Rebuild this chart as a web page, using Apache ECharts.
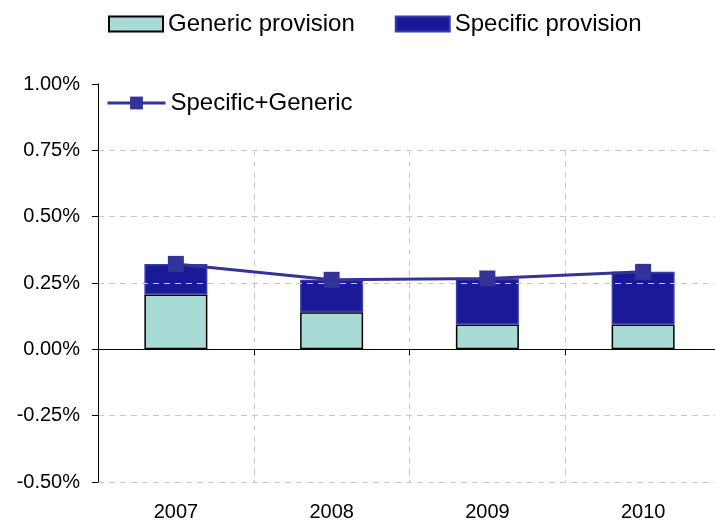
<!DOCTYPE html>
<html><head><meta charset="utf-8">
<script src="https://cdn.jsdelivr.net/npm/echarts@6/dist/echarts.min.js"></script>
<style>html,body{margin:0;padding:0;background:#fff}#c{width:715px;height:523px}</style>
</head><body><div id="c"></div>
<script>
var years = ['2007','2008','2009','2010'];
var generic = [0.207, 0.140, 0.094, 0.094];
var specific = [0.115, 0.122, 0.172, 0.198];
var total = [0.322, 0.262, 0.267, 0.292];
var yTicks = [-0.5, -0.25, 0, 0.25, 0.5, 0.75, 1.0];

var font = 'Liberation Sans, Arial, sans-serif';
var dash = {color: '#c8c8c8', type: [6, 5], width: 1};
var chart = echarts.init(document.getElementById('c'));
chart.setOption({
  animation: false,
  textStyle: {fontFamily: font},
  legend: [{
    data: [{name: 'Generic provision', icon: 'rect'}, {name: 'Specific provision', icon: 'rect'}],
    left: 103, top: 7, itemWidth: 54, itemHeight: 15, itemGap: 40,
    textStyle: {fontSize: 24, color: '#000', fontFamily: font}
  }, {
    data: ['Specific+Generic'],
    left: 101, top: 86, itemWidth: 58, itemHeight: 16,
    lineStyle: {width: 3},
    textStyle: {fontSize: 24, color: '#000', fontFamily: font}
  }],
  grid: [
    {left: 98, width: 623, top: 84, bottom: 41, outerBoundsMode: 'none', containLabel: false},
    {left: 98, width: 623, top: 150, bottom: 41, outerBoundsMode: 'none', containLabel: false}
  ],
  xAxis: [{
    type: 'category', data: years, position: 'bottom', gridIndex: 0,
    axisLine: {show: false, onZero: false}, axisTick: {show: false},
    axisLabel: {fontSize: 20, color: '#000', margin: 20},
    splitLine: {show: false}
  }, {
    type: 'category', data: years, position: 'bottom', gridIndex: 0,
    axisLine: {show: true, onZero: true, lineStyle: {color: '#000', width: 1}},
    axisTick: {show: true, length: 6, lineStyle: {color: '#000'}},
    axisLabel: {show: false}, splitLine: {show: false}
  }, {
    type: 'category', data: years, position: 'bottom', gridIndex: 1,
    axisLine: {show: false, onZero: false}, axisTick: {show: false},
    axisLabel: {show: false},
    splitLine: {show: true, lineStyle: dash}
  }],
  yAxis: [{
    type: 'value', min: -0.5, max: 1.0, interval: 0.25, gridIndex: 0, z: 3,
    axisLine: {show: true, lineStyle: {color: '#000'}},
    axisTick: {show: true, length: 6, lineStyle: {color: '#000'}},
    axisLabel: {fontSize: 20, color: '#000', margin: 18,
      formatter: function (v) { return v.toFixed(2) + '%'; }},
    splitLine: {show: true, lineStyle: {
      color: ['#c8c8c8', '#c8c8c8', 'transparent', '#c8c8c8', '#c8c8c8', '#c8c8c8', 'transparent'],
      type: [6, 5], width: 1}}
  }, {
    type: 'value', min: -0.5, max: 0.75, gridIndex: 1, show: false
  }],
  series: [{
    name: 'Generic provision', type: 'bar', stack: 's', barWidth: 63,
    data: generic,
    itemStyle: {color: '#a8dbd6', borderColor: '#000', borderWidth: 1.5}
  }, {
    name: 'Specific provision', type: 'bar', stack: 's', barWidth: 63,
    data: specific,
    itemStyle: {color: '#1a1a99', borderColor: '#3b3bab', borderWidth: 1.5}
  }, {
    name: 'Specific+Generic', type: 'line', data: total,
    symbol: 'rect', symbolSize: 16, z: 5,
    lineStyle: {color: '#333399', width: 3},
    itemStyle: {color: '#333399'}
  }]
});
</script></body></html>
